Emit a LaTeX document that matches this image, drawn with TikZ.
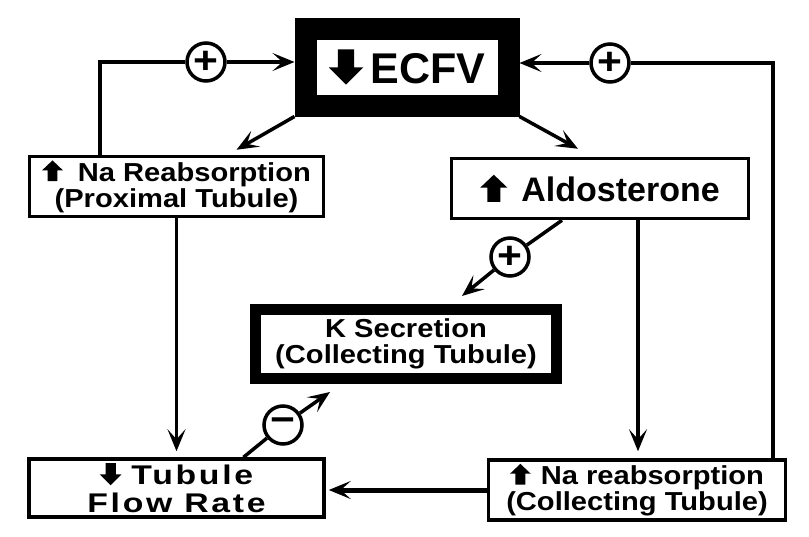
\documentclass[tikz,border=0pt]{standalone}
\usepackage{fontspec}
\setmainfont{Liberation Sans}[FakeStretch=1.12]
\newfontfamily\plainfont{Liberation Sans}
\newfontfamily\widefont{Liberation Sans}[FakeStretch=1.25,LetterSpace=10]
\usetikzlibrary{arrows.meta}
\newcommand{\upglyph}{\tikz[baseline=0pt,x=1em,y=1em]\fill (-.19,0) -- (.19,0) -- (.19,.42) -- (.4,.42) -- (0,.8) -- (-.4,.42) -- (-.19,.42) -- cycle;}
\newcommand{\downglyph}{\tikz[baseline=0pt,x=1em,y=1em]\fill (-.19,.8) -- (.19,.8) -- (.19,.38) -- (.4,.38) -- (0,-.02) -- (-.4,.38) -- (-.19,.38) -- cycle;}
\begin{document}
\begin{tikzpicture}[x=1pt,y=-1pt,
  box/.style={draw, line width=3.5pt, inner sep=0pt, align=center,
    font=\bfseries\fontsize{26}{26}\selectfont},
  sign/.style={circle, draw, line width=3.5pt, minimum size=38pt, inner sep=0pt,
    font=\bfseries\fontsize{38}{38}\selectfont},
  ln/.style={line width=3.5pt},
  arr/.style={line width=3.5pt, -{Stealth[length=22pt,width=18pt,inset=10pt]}}]
\useasboundingbox (0,0) rectangle (809,536);
\fill[white] (0,0) rectangle (809,536);
% boxes
\node[box, line width=22pt, minimum width=203pt, minimum height=77pt,
  font=\plainfont\bfseries\fontsize{43}{43}\selectfont] (ecfv) at (407,67) {\downglyph\,ECFV};
\node[box, minimum width=294pt, minimum height=60pt] (prox) at (176.5,186.5)
  {\upglyph\hspace{15pt}Na Reabsorption\\(Proximal Tubule)};
\node[box, minimum width=297pt, minimum height=60pt,
  font=\plainfont\bfseries\fontsize{34}{34}\selectfont] (aldo) at (600,188.5) {\upglyph\hspace{14pt}Aldosterone};
\node[box, line width=11pt, minimum width=301pt, minimum height=69pt] (ksec) at (406,344)
  {K Secretion\\(Collecting Tubule)};
\node[box, minimum width=295pt, minimum height=58pt,
  font=\widefont\bfseries\fontsize{27}{28}\selectfont] (tub) at (176.5,488)
  {\downglyph\hspace{10pt}Tubule\\Flow Rate};
\node[box, minimum width=297pt, minimum height=60pt] (nacol) at (637,490)
  {\upglyph\hspace{10pt}Na reabsorption\\(Collecting Tubule)};
% signs
\node[sign] (p1) at (206,62) {+};
\node[sign] (p2) at (610,63) {+};
\node[sign] (p3) at (510,257) {+};
\node[sign] (m1) at (283,425) {−};
\coordinate (lc) at (100,62);
\coordinate (rc) at (773,63);
% connectors
\draw[ln] (prox.north -| lc) |- (p1.west);
\draw[arr] (p1.east) -- (p1 -| ecfv.west);
\draw[ln] (nacol.north -| rc) |- (p2.east);
\draw[arr] (p2.west) -- (p2 -| ecfv.east);
\draw[arr] (ecfv.south west) -- ([xshift=60pt,yshift=5pt]prox.north);
\draw[arr] (ecfv.south east) -- ([xshift=-22pt,yshift=8pt]aldo.north);
\draw[ln] ([xshift=-38pt]aldo.south) -- (p3);
\draw[arr] (p3) -- ([xshift=56pt,yshift=8pt]ksec.north);
\draw[ln] ([xshift=67pt]tub.north) -- (m1);
\draw[arr] (m1) -- ([xshift=-76pt,yshift=-8pt]ksec.south);
\draw[arr] (prox.south) -- ([yshift=6pt]tub.north);
\draw[arr] ([xshift=38pt]aldo.south) -- ([xshift=1pt,yshift=7pt]nacol.north);
\draw[arr, line width=5pt] (nacol.west) -- ([xshift=3pt]nacol.west -| tub.east);
\end{tikzpicture}
\end{document}
